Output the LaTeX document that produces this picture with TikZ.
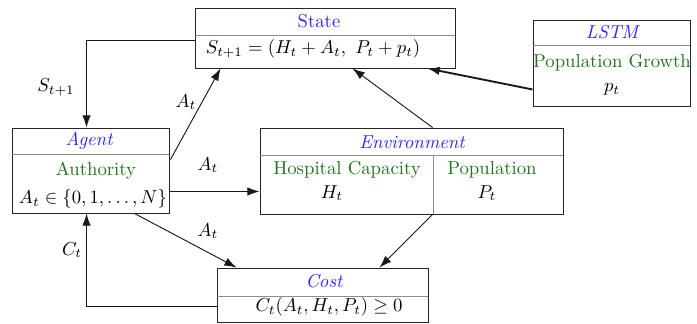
\documentclass[tikz,border=0pt]{standalone}
\usetikzlibrary{arrows.meta,fit,calc}
\definecolor{ttlblue}{RGB}{40,40,250}
\definecolor{lblgreen}{RGB}{30,115,30}
\begin{document}
\begin{tikzpicture}[x=0.5339pt,y=-0.5339pt,
  box/.style={draw=black!85, inner sep=0pt, line width=0.5pt},
  divider/.style={draw=black!45, line width=0.5pt},
  ttl/.style={text=ttlblue, font=\itshape, inner sep=1pt},
  lbl/.style={text=lblgreen, inner sep=1pt},
  txt/.style={inner sep=1pt},
  arr/.style={-{Latex[length=6.5pt,width=4.5pt]}, draw=black!90, line width=0.5pt}]
\useasboundingbox (0,0) rectangle (697,323);
% boxes
\node[box, fit={(195,8)(455,68)}] (state) {};
\draw[divider] (195,35) -- (455,35);
\node[box, fit={(533,20)(690,106)}] (lstm) {};
\draw[divider] (533,45) -- (690,45);
\node[box, fit={(12,128)(169,213)}] (agent) {};
\draw[divider] (12,154) -- (169,154);
\node[box, fit={(260,128)(563,214)}] (env) {};
\draw[divider] (260,155) -- (563,155);
\draw[divider] (433,155) -- (433,214);
\node[box, fit={(217,268)(428,322)}] (cost) {};
\draw[divider] (217,296) -- (428,296);
% texts
\node[ttl, font=\upshape] (stateT) at (319,21) {State};
\node[txt] (stateF) at (313,49) {$S_{t+1} = (H_t + A_t,\ P_t + p_t)$};
\node[ttl] (lstmT) at (612,32) {LSTM};
\node[lbl] (lstmL) at (612,63) {Population Growth};
\node[txt] (lstmF) at (612,89) {$p_t$};
\node[ttl] (agentT) at (89,141) {Agent};
\node[lbl] (agentL) at (96,171) {Authority};
\node[txt] (agentF) at (93,199) {$A_t \in \{0, 1, \ldots, N\}$};
\node[ttl] (envT) at (412,142) {Environment};
\node[lbl] (envL1) at (347,170) {Hospital Capacity};
\node[txt] (envF1) at (332,193) {$H_t$};
\node[lbl] (envL2) at (492,170) {Population};
\node[txt] (envF2) at (487,193) {$P_t$};
\node[ttl] (costT) at (324,281) {Cost};
\node[txt] (costF) at (329,307) {$C_t(A_t, H_t, P_t) \geq 0$};
% connectors
\coordinate (sL) at ($(state.north west)+(0,33)$);
\coordinate (aT) at ($(agent.north west)+(75,0)$);
\draw[arr] (sL) -| (aT);
\node[txt] (lS) at (56,87) {$S_{t+1}$};
\draw[arr] ($(agent.north east)+(1,32)$) -- ($(state.south west)+(26,0)$);
\node[txt] (lA1) at (186,102) {$A_t$};
\coordinate (aR) at ($(agent.south east)+(0,-22)$);
\draw[arr] (aR) -- (aR -| env.west);
\node[txt] (lA2) at (208,165) {$A_t$};
\draw[arr] ($(agent.south west)+(123,0)$) -- ($(cost.north west)+(20,0)$);
\node[txt] (lA3) at (208,231) {$A_t$};
\coordinate (cL) at ($(cost.north west)+(0,39)$);
\coordinate (aB) at ($(agent.south west)+(75,0)$);
\draw[arr] (cL) -| (aB);
\node[txt] (lC) at (72,250) {$C_t$};
\draw[arr] ($(env.north west)+(173,0)$) -- ($(state.south west)+(158,0)$);
\draw[arr, line width=1pt] ($(lstm.south west)+(0,-17)$) -- ($(state.south west)+(233,0)$);
\draw[arr] ($(env.south west)+(173,0)$) -- ($(cost.north west)+(163,0)$);
\end{tikzpicture}
\end{document}
